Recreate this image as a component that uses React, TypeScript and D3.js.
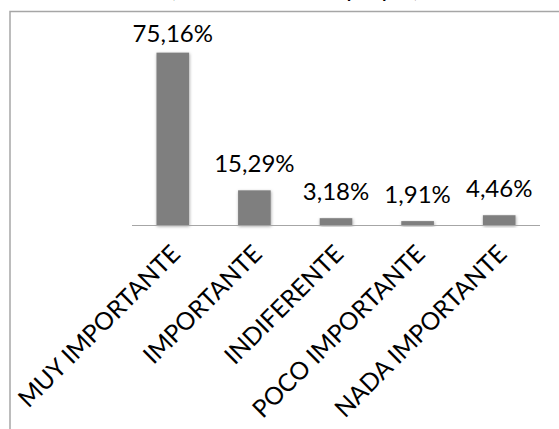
import React from "react";
import * as d3 from "d3";

const categories = ["MUY IMPORTANTE", "IMPORTANTE", "INDIFERENTE", "POCO IMPORTANTE", "NADA IMPORTANTE"];
const values = [75.16, 15.29, 3.18, 1.91, 4.46];
const valueLabels = ["75,16%", "15,29%", "3,18%", "1,91%", "4,46%"];
const titleText = "(Nivel de interés propio)";

const W = 559;
const H = 429;
const FONT = "Lato, 'Open Sans', sans-serif";

export default function App() {
  const x = d3.scaleBand<string>().domain(categories).range([132, 540]).paddingInner(0.6).paddingOuter(0.3);
  const y = d3.scaleLinear().domain([0, 80]).range([225.5, 41.5]);
  const plotTop = 42;

  return (
    <svg width={W} height={H} style={{ position: "absolute", left: 0, top: 0, background: "#fff" }}>
      <defs>
        <filter id="shadow" x="-30%" y="-10%" width="160%" height="130%">
          <feDropShadow dx="0.5" dy="1" stdDeviation="1.6" floodColor="#000" floodOpacity="0.35" />
        </filter>
      </defs>
      <text x={420} y={-3} textAnchor="end" fontFamily={FONT} fontSize={24} fill="#000">{titleText}</text>
      <path d={`M10,${H} V11.5 H${W}`} fill="none" stroke="#a6a6a6" strokeWidth={1.5} />
      {categories.map((c, i) => (
        <rect key={c} x={x(c)} y={y(values[i])} width={x.bandwidth()} height={y(0) - y(values[i])} fill="#7f7f7f" filter="url(#shadow)" />
      ))}
      <line x1={132} x2={540} y1={y(0)} y2={y(0)} stroke="#a6a6a6" strokeWidth={1} />
      {categories.map((c, i) => (
        <text key={"v" + c} x={(x(c) as number) + x.bandwidth() / 2} y={Math.max(y(values[i]) - 18, plotTop)} textAnchor="middle" fontFamily={FONT} fontSize={24} fill="#000">
          {valueLabels[i]}
        </text>
      ))}
      {categories.map((c) => {
        const cx = (x(c) as number) + x.bandwidth() / 2;
        return (
          <text key={"c" + c} transform={`translate(${cx - 4},${y(0) + 17}) rotate(-45)`} textAnchor="end" dy="0.75em" fontFamily={FONT} fontSize={24.5} fill="#000">
            {c}
          </text>
        );
      })}
    </svg>
  );
}
